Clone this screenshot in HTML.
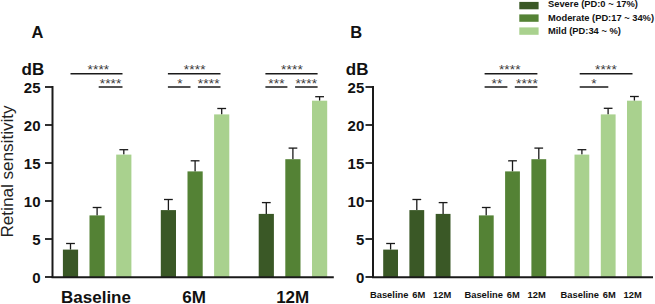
<!DOCTYPE html>
<html><head><meta charset="utf-8"><title>Retinal sensitivity</title>
<style>
html,body{margin:0;padding:0;background:#fff;}
body{width:655px;height:304px;overflow:hidden;}
svg{display:block;}
text{font-family:"Liberation Sans",Arial,Helvetica,sans-serif;fill:#111;}
.b{font-weight:bold;}
.st{font-size:13.6px;letter-spacing:0.15px;fill:#3a3a3a;text-anchor:middle;}
</style></head><body>
<svg width="655" height="304" viewBox="0 0 655 304">
<rect width="655" height="304" fill="#fff"/>
<text class="b" x="31.6" y="38.2" font-size="16.5">A</text>
<text class="b" x="21.6" y="74.6" font-size="17">dB</text>
<text x="0" y="0" font-size="16.5" transform="translate(12.7,237.5) rotate(-90) scale(1.037,1)" style="fill:#222">Retinal sensitivity</text>
<line x1="70.5" y1="249.6" x2="70.5" y2="243.5" stroke="#1a1a1a" stroke-width="1.3"/>
<line x1="66.1" y1="243.5" x2="74.9" y2="243.5" stroke="#1a1a1a" stroke-width="1.3"/>
<rect x="62.9" y="249.6" width="15.2" height="27.4" fill="#3a5826"/>
<line x1="97.1" y1="215.4" x2="97.1" y2="207.5" stroke="#1a1a1a" stroke-width="1.3"/>
<line x1="92.7" y1="207.5" x2="101.5" y2="207.5" stroke="#1a1a1a" stroke-width="1.3"/>
<rect x="89.5" y="215.4" width="15.2" height="61.6" fill="#548235"/>
<line x1="123.8" y1="154.6" x2="123.8" y2="149.7" stroke="#1a1a1a" stroke-width="1.3"/>
<line x1="119.4" y1="149.7" x2="128.2" y2="149.7" stroke="#1a1a1a" stroke-width="1.3"/>
<rect x="116.2" y="154.6" width="15.2" height="122.4" fill="#a9d18e"/>
<line x1="168.4" y1="210.1" x2="168.4" y2="199.5" stroke="#1a1a1a" stroke-width="1.3"/>
<line x1="164.0" y1="199.5" x2="172.8" y2="199.5" stroke="#1a1a1a" stroke-width="1.3"/>
<rect x="160.8" y="210.1" width="15.2" height="66.9" fill="#3a5826"/>
<line x1="195.1" y1="171.4" x2="195.1" y2="160.8" stroke="#1a1a1a" stroke-width="1.3"/>
<line x1="190.7" y1="160.8" x2="199.5" y2="160.8" stroke="#1a1a1a" stroke-width="1.3"/>
<rect x="187.5" y="171.4" width="15.2" height="105.6" fill="#548235"/>
<line x1="221.7" y1="114.4" x2="221.7" y2="108.5" stroke="#1a1a1a" stroke-width="1.3"/>
<line x1="217.3" y1="108.5" x2="226.1" y2="108.5" stroke="#1a1a1a" stroke-width="1.3"/>
<rect x="214.1" y="114.4" width="15.2" height="162.6" fill="#a9d18e"/>
<line x1="266.3" y1="213.9" x2="266.3" y2="202.6" stroke="#1a1a1a" stroke-width="1.3"/>
<line x1="261.9" y1="202.6" x2="270.7" y2="202.6" stroke="#1a1a1a" stroke-width="1.3"/>
<rect x="258.7" y="213.9" width="15.2" height="63.1" fill="#3a5826"/>
<line x1="292.9" y1="159.2" x2="292.9" y2="148.1" stroke="#1a1a1a" stroke-width="1.3"/>
<line x1="288.6" y1="148.1" x2="297.3" y2="148.1" stroke="#1a1a1a" stroke-width="1.3"/>
<rect x="285.3" y="159.2" width="15.2" height="117.8" fill="#548235"/>
<line x1="319.6" y1="100.7" x2="319.6" y2="96.7" stroke="#1a1a1a" stroke-width="1.3"/>
<line x1="315.2" y1="96.7" x2="324.0" y2="96.7" stroke="#1a1a1a" stroke-width="1.3"/>
<rect x="312.0" y="100.7" width="15.2" height="176.3" fill="#a9d18e"/>
<line x1="52.5" y1="86" x2="52.5" y2="278" stroke="#1a1a1a" stroke-width="2"/>
<line x1="51.5" y1="277.3" x2="333.8" y2="277.3" stroke="#1a1a1a" stroke-width="1.9"/>
<line x1="45.0" y1="277.0" x2="52.5" y2="277.0" stroke="#1a1a1a" stroke-width="1.8"/>
<text class="b" x="40.5" y="282.6" font-size="15" text-anchor="end">0</text>
<line x1="45.0" y1="239.0" x2="52.5" y2="239.0" stroke="#1a1a1a" stroke-width="1.8"/>
<text class="b" x="40.5" y="244.6" font-size="15" text-anchor="end">5</text>
<line x1="45.0" y1="201.0" x2="52.5" y2="201.0" stroke="#1a1a1a" stroke-width="1.8"/>
<text class="b" x="40.5" y="206.6" font-size="15" text-anchor="end">10</text>
<line x1="45.0" y1="163.0" x2="52.5" y2="163.0" stroke="#1a1a1a" stroke-width="1.8"/>
<text class="b" x="40.5" y="168.6" font-size="15" text-anchor="end">15</text>
<line x1="45.0" y1="125.0" x2="52.5" y2="125.0" stroke="#1a1a1a" stroke-width="1.8"/>
<text class="b" x="40.5" y="130.6" font-size="15" text-anchor="end">20</text>
<line x1="45.0" y1="87.0" x2="52.5" y2="87.0" stroke="#1a1a1a" stroke-width="1.8"/>
<text class="b" x="40.5" y="92.6" font-size="15" text-anchor="end">25</text>
<text class="b" x="96" y="303.4" font-size="17" text-anchor="middle">Baseline</text>
<text class="b" x="194" y="303.4" font-size="17" text-anchor="middle">6M</text>
<text class="b" x="292.7" y="303.4" font-size="17" text-anchor="middle">12M</text>
<line x1="70.5" y1="73.7" x2="122.5" y2="73.7" stroke="#1a1a1a" stroke-width="1.5"/>
<line x1="98.7" y1="87.0" x2="122.5" y2="87.0" stroke="#1a1a1a" stroke-width="1.5"/>
<text class="st" x="98.4" y="73.8">****</text>
<text class="st" x="110.6" y="87.6">****</text>
<line x1="167.9" y1="73.7" x2="220.5" y2="73.7" stroke="#1a1a1a" stroke-width="1.5"/>
<line x1="167.9" y1="87.0" x2="190.5" y2="87.0" stroke="#1a1a1a" stroke-width="1.5"/>
<line x1="197.9" y1="87.0" x2="220.5" y2="87.0" stroke="#1a1a1a" stroke-width="1.5"/>
<text class="st" x="194.7" y="73.8">****</text>
<text class="st" x="179.9" y="87.6">*</text>
<text class="st" x="208.7" y="87.6">****</text>
<line x1="265.4" y1="73.7" x2="317.6" y2="73.7" stroke="#1a1a1a" stroke-width="1.5"/>
<line x1="265.4" y1="87.0" x2="287.4" y2="87.0" stroke="#1a1a1a" stroke-width="1.5"/>
<line x1="295.1" y1="87.0" x2="317.6" y2="87.0" stroke="#1a1a1a" stroke-width="1.5"/>
<text class="st" x="292.0" y="73.8">****</text>
<text class="st" x="276.5" y="87.6">***</text>
<text class="st" x="306.3" y="87.6">****</text>
<text class="b" x="350.2" y="38.2" font-size="16.5">B</text>
<text class="b" x="345.8" y="74.6" font-size="17">dB</text>
<line x1="390.6" y1="249.6" x2="390.6" y2="243.5" stroke="#1a1a1a" stroke-width="1.3"/>
<line x1="386.2" y1="243.5" x2="395.0" y2="243.5" stroke="#1a1a1a" stroke-width="1.3"/>
<rect x="383.2" y="249.6" width="14.8" height="27.4" fill="#3a5826"/>
<line x1="416.8" y1="210.1" x2="416.8" y2="199.5" stroke="#1a1a1a" stroke-width="1.3"/>
<line x1="412.4" y1="199.5" x2="421.2" y2="199.5" stroke="#1a1a1a" stroke-width="1.3"/>
<rect x="409.4" y="210.1" width="14.8" height="66.9" fill="#3a5826"/>
<line x1="443.1" y1="213.9" x2="443.1" y2="202.6" stroke="#1a1a1a" stroke-width="1.3"/>
<line x1="438.7" y1="202.6" x2="447.5" y2="202.6" stroke="#1a1a1a" stroke-width="1.3"/>
<rect x="435.7" y="213.9" width="14.8" height="63.1" fill="#3a5826"/>
<line x1="486.2" y1="215.4" x2="486.2" y2="207.5" stroke="#1a1a1a" stroke-width="1.3"/>
<line x1="481.9" y1="207.5" x2="490.6" y2="207.5" stroke="#1a1a1a" stroke-width="1.3"/>
<rect x="478.9" y="215.4" width="14.8" height="61.6" fill="#548235"/>
<line x1="512.5" y1="171.4" x2="512.5" y2="160.8" stroke="#1a1a1a" stroke-width="1.3"/>
<line x1="508.1" y1="160.8" x2="516.9" y2="160.8" stroke="#1a1a1a" stroke-width="1.3"/>
<rect x="505.1" y="171.4" width="14.8" height="105.6" fill="#548235"/>
<line x1="538.8" y1="159.2" x2="538.8" y2="148.1" stroke="#1a1a1a" stroke-width="1.3"/>
<line x1="534.4" y1="148.1" x2="543.1" y2="148.1" stroke="#1a1a1a" stroke-width="1.3"/>
<rect x="531.4" y="159.2" width="14.8" height="117.8" fill="#548235"/>
<line x1="581.9" y1="154.6" x2="581.9" y2="149.7" stroke="#1a1a1a" stroke-width="1.3"/>
<line x1="577.5" y1="149.7" x2="586.3" y2="149.7" stroke="#1a1a1a" stroke-width="1.3"/>
<rect x="574.5" y="154.6" width="14.8" height="122.4" fill="#a9d18e"/>
<line x1="608.1" y1="114.4" x2="608.1" y2="108.3" stroke="#1a1a1a" stroke-width="1.3"/>
<line x1="603.8" y1="108.3" x2="612.5" y2="108.3" stroke="#1a1a1a" stroke-width="1.3"/>
<rect x="600.8" y="114.4" width="14.8" height="162.6" fill="#a9d18e"/>
<line x1="634.4" y1="100.7" x2="634.4" y2="96.5" stroke="#1a1a1a" stroke-width="1.3"/>
<line x1="630.0" y1="96.5" x2="638.8" y2="96.5" stroke="#1a1a1a" stroke-width="1.3"/>
<rect x="627.0" y="100.7" width="14.8" height="176.3" fill="#a9d18e"/>
<line x1="373" y1="86" x2="373" y2="278" stroke="#1a1a1a" stroke-width="2"/>
<line x1="372" y1="277.3" x2="653" y2="277.3" stroke="#1a1a1a" stroke-width="1.9"/>
<line x1="365.5" y1="277.0" x2="373" y2="277.0" stroke="#1a1a1a" stroke-width="1.8"/>
<text class="b" x="364.3" y="282.6" font-size="15" text-anchor="end">0</text>
<line x1="365.5" y1="239.0" x2="373" y2="239.0" stroke="#1a1a1a" stroke-width="1.8"/>
<text class="b" x="364.3" y="244.6" font-size="15" text-anchor="end">5</text>
<line x1="365.5" y1="201.0" x2="373" y2="201.0" stroke="#1a1a1a" stroke-width="1.8"/>
<text class="b" x="364.3" y="206.6" font-size="15" text-anchor="end">10</text>
<line x1="365.5" y1="163.0" x2="373" y2="163.0" stroke="#1a1a1a" stroke-width="1.8"/>
<text class="b" x="364.3" y="168.6" font-size="15" text-anchor="end">15</text>
<line x1="365.5" y1="125.0" x2="373" y2="125.0" stroke="#1a1a1a" stroke-width="1.8"/>
<text class="b" x="364.3" y="130.6" font-size="15" text-anchor="end">20</text>
<line x1="365.5" y1="87.0" x2="373" y2="87.0" stroke="#1a1a1a" stroke-width="1.8"/>
<text class="b" x="364.3" y="92.6" font-size="15" text-anchor="end">25</text>
<text class="b" x="370.0" y="298" font-size="9.33">Baseline</text>
<text class="b" x="412.2" y="298" font-size="9.33">6M</text>
<text class="b" x="433.0" y="298" font-size="9.33">12M</text>
<text class="b" x="464.5" y="298" font-size="9.33">Baseline</text>
<text class="b" x="506.7" y="298" font-size="9.33">6M</text>
<text class="b" x="527.5" y="298" font-size="9.33">12M</text>
<text class="b" x="560.6" y="298" font-size="9.33">Baseline</text>
<text class="b" x="602.8000000000001" y="298" font-size="9.33">6M</text>
<text class="b" x="623.6" y="298" font-size="9.33">12M</text>
<line x1="484.6" y1="73.7" x2="537.4" y2="73.7" stroke="#1a1a1a" stroke-width="1.5"/>
<line x1="484.6" y1="87.0" x2="507.4" y2="87.0" stroke="#1a1a1a" stroke-width="1.5"/>
<line x1="514.8" y1="87.0" x2="537.4" y2="87.0" stroke="#1a1a1a" stroke-width="1.5"/>
<text class="st" x="509.8" y="73.8">****</text>
<text class="st" x="497.0" y="87.6">**</text>
<text class="st" x="527.0" y="87.6">****</text>
<line x1="579.7" y1="73.7" x2="632.5" y2="73.7" stroke="#1a1a1a" stroke-width="1.5"/>
<line x1="579.7" y1="87.0" x2="608.3" y2="87.0" stroke="#1a1a1a" stroke-width="1.5"/>
<text class="st" x="606.0" y="73.8">****</text>
<text class="st" x="594.0" y="87.6">*</text>
<rect x="519.3" y="1.9" width="19.3" height="7.4" fill="#3a5826"/>
<text class="b" x="548" y="7.3" font-size="9.33">Severe (PD:0 ~ 17%)</text>
<rect x="519.3" y="14.4" width="19.3" height="7.4" fill="#548235"/>
<text class="b" x="548" y="20.6" font-size="9.33">Moderate (PD:17 ~ 34%)</text>
<rect x="519.3" y="27.4" width="19.3" height="7.4" fill="#a9d18e"/>
<text class="b" x="548" y="33.9" font-size="9.33">Mild (PD:34 ~ %)</text>
</svg>
</body></html>
